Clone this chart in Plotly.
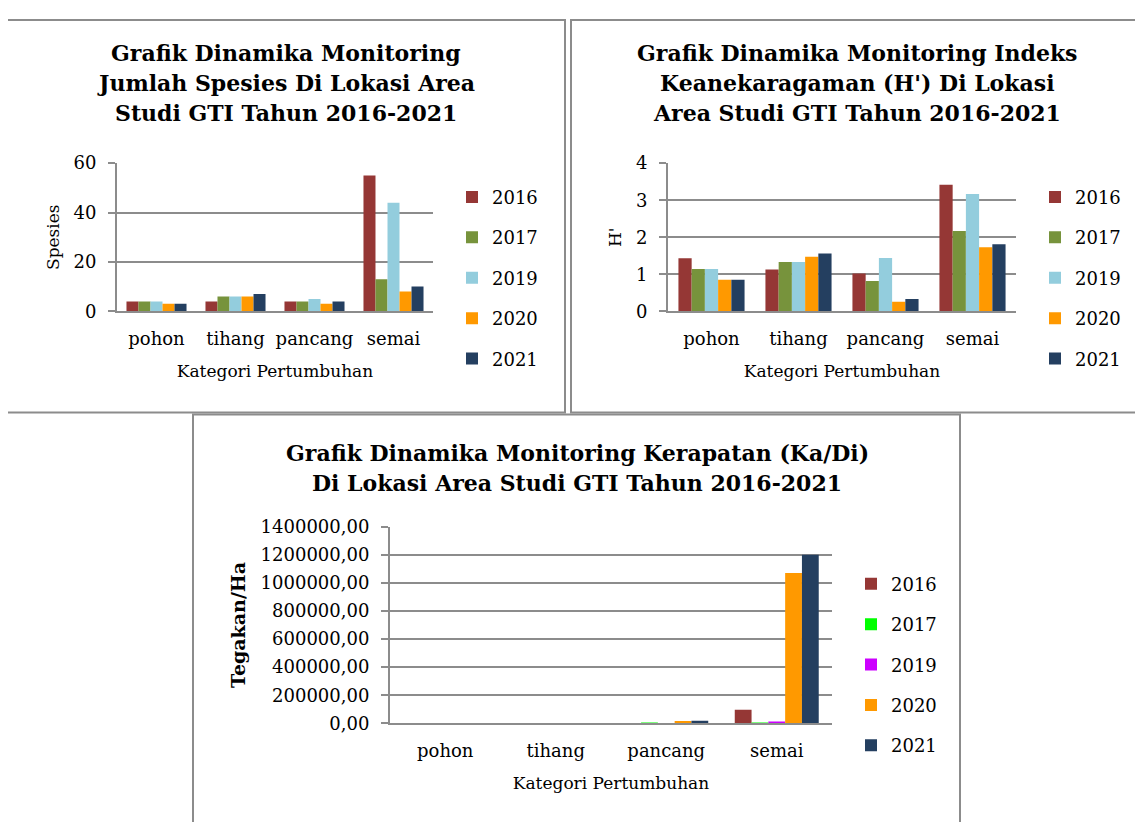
import plotly.graph_objects as go

kategori = ["pohon", "tihang", "pancang", "semai"]
tahun = ["2016", "2017", "2019", "2020", "2021"]

# jumlah spesies
spesies_2016 = [4, 4, 4, 55]
spesies_2017 = [4, 6, 4, 13]
spesies_2019 = [4, 6, 5, 44]
spesies_2020 = [3, 6, 3, 8]
spesies_2021 = [3, 7, 4, 10]

# indeks keanekaragaman H'
h_2016 = [1.43, 1.13, 1.02, 3.42]
h_2017 = [1.14, 1.33, 0.82, 2.17]
h_2019 = [1.14, 1.33, 1.44, 3.17]
h_2020 = [0.85, 1.47, 0.26, 1.73]
h_2021 = [0.85, 1.56, 0.33, 1.81]

# kerapatan (tegakan/ha)
ka_2016 = [0, 0, 0, 97000]
ka_2017 = [0, 0, 3000, 2500]
ka_2019 = [0, 0, 0, 11000]
ka_2020 = [0, 0, 16000, 1070000]
ka_2021 = [0, 0, 18000, 1200000]

warna_1 = ["#953735", "#77933C", "#93CDDD", "#FF9900", "#243F60"]
warna_3 = ["#953735", "#00FF00", "#CC00FF", "#FF9900", "#243F60"]

# halaman punya margin body 8px, jadi figur dibuat sedikit lebih kecil
OFF = 8
W, H = 1143 - 2 * OFF, 830 - 2 * OFF
FONT = "DejaVu Serif"
GRID = "#8C8C8C"


def px_x(v):
    return (v - OFF) / W


def px_y(v):
    return 1 - (v - OFF) / H


fig = go.Figure()

grup = [
    ([spesies_2016, spesies_2017, spesies_2019, spesies_2020, spesies_2021], warna_1, "x", "y", "legend"),
    ([h_2016, h_2017, h_2019, h_2020, h_2021], warna_1, "x2", "y2", "legend2"),
    ([ka_2016, ka_2017, ka_2019, ka_2020, ka_2021], warna_3, "x3", "y3", "legend3"),
]
for gi, (series, warna, xa, ya, lg) in enumerate(grup):
    for th, vals, c in zip(tahun, series, warna):
        fig.add_trace(go.Bar(
            x=kategori, y=vals, name=th, marker_color=c,
            marker_line_width=0, xaxis=xa, yaxis=ya, legend=lg,
            legendgroup=f"{gi}-{th}",
        ))

axis_common = dict(
    showline=True, linecolor=GRID, linewidth=2,
    tickfont=dict(family=FONT, size=18, color="#000"),
)
x_common = dict(axis_common, showgrid=False, ticks="", ticklabelstandoff=10,
                title_font=dict(family=FONT, size=17, color="#000"), title_standoff=17)
y_common = dict(axis_common, showgrid=True, gridcolor=GRID, gridwidth=2,
                ticks="outside", ticklen=7, tickcolor=GRID, tickwidth=2, zeroline=False,
                ticklabelstandoff=8)

fig.update_layout(
    width=W, height=H,
    margin=dict(l=0, r=0, t=0, b=0),
    paper_bgcolor="white", plot_bgcolor="white",
    font=dict(family=FONT, color="#000"),
    separators=",.",
    barmode="group", bargap=0.24, bargroupgap=0,
    showlegend=True,
    xaxis=dict(x_common, domain=[px_x(117), px_x(433)], anchor="y",
               title_text="Kategori Pertumbuhan"),
    yaxis=dict(y_common, domain=[px_y(308), px_y(156)], anchor="x",
               range=[0, 60], dtick=20, title_text="Spesies",
               title_font=dict(family=FONT, size=17, color="#000"), title_standoff=10),
    xaxis2=dict(x_common, domain=[px_x(668), px_x(1016)], anchor="y2",
                title_text="Kategori Pertumbuhan"),
    yaxis2=dict(y_common, domain=[px_y(308), px_y(156)], anchor="x2",
                range=[0, 4], dtick=1, title_text="H'",
                title_font=dict(family=FONT, size=17, color="#000"), title_standoff=10),
    xaxis3=dict(x_common, domain=[px_x(390), px_x(832)], anchor="y3",
                title_text="Kategori Pertumbuhan"),
    yaxis3=dict(y_common, domain=[px_y(731), px_y(529)], anchor="x3",
                range=[0, 1400000], dtick=200000, tickformat=".2f",
                title_text="<b>Tegakan/Ha</b>",
                title_font=dict(family=FONT, size=19, color="#000"), title_standoff=10),
)

leg_common = dict(font=dict(family=FONT, size=18, color="#000"),
                  tracegroupgap=14, bgcolor="rgba(0,0,0,0)",
                  xanchor="left", yanchor="top", itemclick=False)
fig.update_layout(
    legend=dict(leg_common, x=px_x(452), y=px_y(172)),
    legend2=dict(leg_common, x=px_x(1035), y=px_y(172)),
    legend3=dict(leg_common, x=px_x(851), y=px_y(569)),
)

# bingkai panel
for x0, y0, x1, y1 in [(7, 9, 565, 412), (571, 9, 1141, 412), (193, 414, 960, 840)]:
    fig.add_shape(type="rect", xref="paper", yref="paper",
                  x0=px_x(x0), x1=px_x(x1), y0=px_y(y0), y1=px_y(y1),
                  line=dict(color="#8C8C8C", width=2), fillcolor="rgba(0,0,0,0)")

# judul, satu anotasi per baris
judul = [
    (["Grafik Dinamika Monitoring", "Jumlah Spesies Di Lokasi Area", "Studi GTI Tahun 2016-2021"], 286, 43),
    (["Grafik Dinamika Monitoring Indeks", "Keanekaragaman (H') Di Lokasi", "Area Studi GTI Tahun 2016-2021"], 857, 43),
    (["Grafik Dinamika Monitoring Kerapatan (Ka/Di)", "Di Lokasi Area Studi GTI Tahun 2016-2021"], 577, 453),
]
for baris, cx, y0 in judul:
    for i, teks in enumerate(baris):
        fig.add_annotation(text=f"<b>{teks}</b>", xref="paper", yref="paper",
                           x=px_x(cx), y=px_y(y0 + 31 * i), xanchor="center", yanchor="middle",
                           showarrow=False, font=dict(family=FONT, size=22, color="#000"))

fig.write_html("out.html")
